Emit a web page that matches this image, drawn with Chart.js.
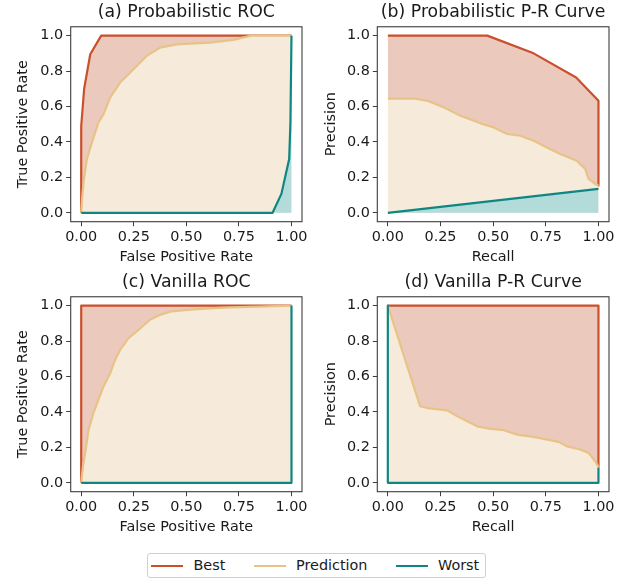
<!DOCTYPE html>
<html>
<head>
<meta charset="utf-8">
<script src="https://cdn.jsdelivr.net/npm/chart.js@4.4.1/dist/chart.umd.min.js"></script>
<style>
  body { margin: 0; background: #fff; width: 633px; height: 578px; position: relative; overflow: hidden; font-family: "DejaVu Sans", sans-serif; color: #1a1a1a; }
  .panel { position: absolute; height: 270px; }
  #legend { position: absolute; left: 146.5px; top: 552.5px; width: 337px; height: 23px; border: 1px solid #d0d0d0; border-radius: 3px; background: #fff; }
  #legend .swatch { position: absolute; top: 11px; width: 32px; height: 2.4px; }
  #legend .label { position: absolute; top: 2px; font-size: 14.4px; line-height: 18px; white-space: nowrap; }
</style>
</head>
<body>
<div class="panel" style="left:0;top:0;width:316px"><canvas id="chartA" width="316" height="270"></canvas></div>
<div class="panel" style="left:316px;top:0;width:317px"><canvas id="chartB" width="317" height="270"></canvas></div>
<div class="panel" style="left:0;top:270px;width:316px"><canvas id="chartC" width="316" height="270"></canvas></div>
<div class="panel" style="left:316px;top:270px;width:317px"><canvas id="chartD" width="317" height="270"></canvas></div>

<div id="legend">
  <div class="swatch" style="left:3px;background:#c9502b"></div>
  <div class="label" style="left:46px">Best</div>
  <div class="swatch" style="left:106px;background:#e8c387"></div>
  <div class="label" style="left:148.5px">Prediction</div>
  <div class="swatch" style="left:248px;background:#0e8782"></div>
  <div class="label" style="left:290.5px">Worst</div>
</div>

<script>
// tick values
const xTicks = [0, 0.25, 0.5, 0.75, 1];
const yTicks = [0, 0.2, 0.4, 0.6, 0.8, 1];

// (a) Probabilistic ROC
const probRocBestX = [0, 0, 0.014, 0.043, 0.095, 1];
const probRocBestY = [0, 0.49, 0.70, 0.895, 1, 1];
const probRocPredX = [0, 0.005, 0.011, 0.027, 0.051, 0.082, 0.106, 0.138, 0.185, 0.233, 0.312, 0.375, 0.454, 0.517, 0.612, 0.723, 0.81, 1];
const probRocPredY = [0, 0.09, 0.172, 0.304, 0.398, 0.51, 0.557, 0.651, 0.735, 0.792, 0.886, 0.932, 0.951, 0.955, 0.961, 0.976, 1, 1];
const probRocWorstX = [0, 0.91, 0.952, 0.989, 0.995, 1];
const probRocWorstY = [0, 0, 0.107, 0.304, 0.51, 1];

// (b) Probabilistic P-R
const probPrBestX = [0, 0.472, 0.692, 0.894, 1, 1];
const probPrBestY = [1, 1, 0.90, 0.764, 0.632, 0.154];
const probPrPredX = [0, 0.126, 0.188, 0.267, 0.345, 0.44, 0.503, 0.566, 0.629, 0.692, 0.755, 0.818, 0.897, 0.937, 0.953, 0.984, 1];
const probPrPredY = [0.645, 0.645, 0.632, 0.595, 0.548, 0.505, 0.482, 0.445, 0.435, 0.407, 0.369, 0.332, 0.294, 0.248, 0.191, 0.163, 0.154];
const probPrWorstX = [0, 1];
const probPrWorstY = [0, 0.135];

// (c) Vanilla ROC
const vanRocBestX = [0, 0, 1];
const vanRocBestY = [0, 1, 1];
const vanRocPredX = [0, 0.008, 0.019, 0.035, 0.058, 0.082, 0.106, 0.138, 0.161, 0.185, 0.225, 0.264, 0.327, 0.375, 0.422, 0.502, 0.612, 0.707, 0.85, 1];
const vanRocPredY = [0, 0.09, 0.169, 0.30, 0.394, 0.469, 0.544, 0.619, 0.694, 0.75, 0.816, 0.854, 0.92, 0.948, 0.966, 0.976, 0.985, 0.99, 0.994, 1];
const vanRocWorstX = [0, 1, 1];
const vanRocWorstY = [0, 0, 1];

// (d) Vanilla P-R
const vanPrBestX = [0, 1, 1];
const vanPrBestY = [1, 1, 0.09];
const vanPrPredX = [0, 0.153, 0.188, 0.282, 0.33, 0.377, 0.424, 0.487, 0.551, 0.614, 0.692, 0.74, 0.811, 0.85, 0.913, 0.953, 0.984, 1];
const vanPrPredY = [1, 0.432, 0.422, 0.409, 0.375, 0.347, 0.319, 0.304, 0.297, 0.272, 0.259, 0.248, 0.231, 0.206, 0.188, 0.169, 0.122, 0.09];
const vanPrWorstX = [0, 0, 1, 1];
const vanPrWorstY = [1, 0, 0, 0.085];

const FONT = "DejaVu Sans";
const TEXT = "#1a1a1a";
const SPINE = "#3d3d3d";

const zip = (xs, ys) => xs.map((x, i) => ({ x: x, y: ys[i] }));

// matplotlib style frame around the axes
const axesBox = {
  id: "axesBox",
  afterDatasetsDraw(chart) {
    const a = chart.chartArea;
    const ctx = chart.ctx;
    ctx.save();
    ctx.strokeStyle = SPINE;
    ctx.lineWidth = 1.1;
    ctx.strokeRect(a.left, a.top, a.right - a.left, a.bottom - a.top);
    ctx.restore();
  }
};

function series(label, pts, line, fill, order) {
  return {
    label: label,
    data: pts,
    borderColor: line,
    backgroundColor: fill,
    borderWidth: 2.2,
    fill: "origin",
    pointRadius: 0,
    tension: 0,
    borderJoinStyle: "round",
    order: order
  };
}

function makePanel(id, title, xLabel, yLabel, best, pred, worst, yWidth, yTitlePad, rightPad) {
  const ctx = document.getElementById(id).getContext("2d");
  return new Chart(ctx, {
    type: "line",
    data: {
      datasets: [
        series("Best", best, "#c9502b", "#ecc9bd", 3),
        series("Prediction", pred, "#e8c387", "#f6ebda", 2),
        series("Worst", worst, "#0e8782", "#b2dbda", 1)
      ]
    },
    options: {
      responsive: false,
      animation: false,
      layout: { padding: { left: 0, right: rightPad, top: 0, bottom: 0 } },
      plugins: {
        legend: { display: false },
        tooltip: { enabled: false },
        title: {
          display: true,
          text: title,
          fullSize: false,
          color: TEXT,
          font: { family: FONT, size: 17.3, weight: "normal" },
          padding: { top: 2.5, bottom: 3.5 }
        }
      },
      scales: {
        x: {
          type: "linear",
          min: -0.05,
          max: 1.05,
          afterBuildTicks: axis => { axis.ticks = xTicks.map(v => ({ value: v })); },
          afterFit: scale => { scale.height = 48.3; },
          grid: { drawOnChartArea: false, drawTicks: true, tickLength: 4.5, color: SPINE, lineWidth: 1 },
          border: { display: false },
          ticks: {
            autoSkip: false,
            maxRotation: 0,
            padding: 2.5,
            color: TEXT,
            font: { family: FONT, size: 14.4 },
            callback: v => v.toFixed(2)
          },
          title: {
            display: true,
            text: xLabel,
            color: TEXT,
            font: { family: FONT, size: 14.4 },
            padding: { top: 0, bottom: 3.7 }
          }
        },
        y: {
          type: "linear",
          min: -0.05,
          max: 1.05,
          afterBuildTicks: axis => { axis.ticks = yTicks.map(v => ({ value: v })); },
          afterFit: scale => { scale.width = yWidth; },
          grid: { drawOnChartArea: false, drawTicks: true, tickLength: 4.5, color: SPINE, lineWidth: 1 },
          border: { display: false },
          ticks: {
            autoSkip: false,
            padding: 3,
            color: TEXT,
            font: { family: FONT, size: 14.4 },
            callback: v => v.toFixed(1)
          },
          title: {
            display: true,
            text: yLabel,
            color: TEXT,
            font: { family: FONT, size: 14.4 },
            padding: { top: yTitlePad, bottom: 0 }
          }
        }
      }
    },
    plugins: [axesBox]
  });
}

makePanel("chartA", "(a) Probabilistic ROC", "False Positive Rate", "True Positive Rate",
  zip(probRocBestX, probRocBestY), zip(probRocPredX, probRocPredY), zip(probRocWorstX, probRocWorstY), 70.7, 14.2, 14);
makePanel("chartB", "(b) Probabilistic P-R Curve", "Recall", "Precision",
  zip(probPrBestX, probPrBestY), zip(probPrPredX, probPrPredY), zip(probPrWorstX, probPrWorstY), 61.3, 6.2, 24);
makePanel("chartC", "(c) Vanilla ROC", "False Positive Rate", "True Positive Rate",
  zip(vanRocBestX, vanRocBestY), zip(vanRocPredX, vanRocPredY), zip(vanRocWorstX, vanRocWorstY), 70.7, 14.2, 14);
makePanel("chartD", "(d) Vanilla P-R Curve", "Recall", "Precision",
  zip(vanPrBestX, vanPrBestY), zip(vanPrPredX, vanPrPredY), zip(vanPrWorstX, vanPrWorstY), 61.3, 6.2, 24);
</script>
</body>
</html>
